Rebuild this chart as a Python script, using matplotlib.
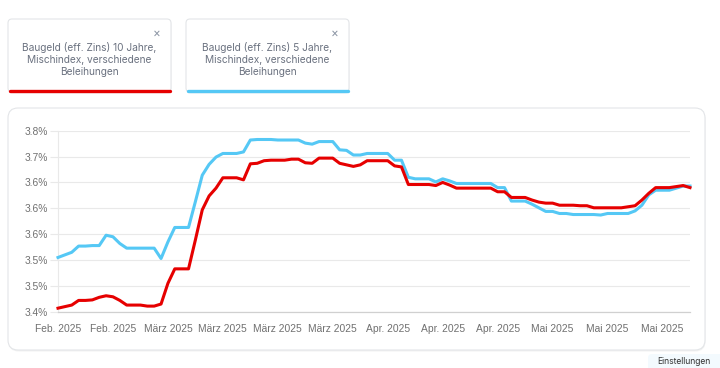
import matplotlib
matplotlib.use("Agg")
import matplotlib.pyplot as plt
from matplotlib.patches import FancyBboxPatch
import numpy as np

# ---------------------------------------------------------------------------
# Data (daily values)
# ---------------------------------------------------------------------------
zins_10j = [
    3.407, 3.410, 3.413, 3.422, 3.422, 3.423, 3.428, 3.431, 3.429, 3.422,
    3.413, 3.413, 3.413, 3.411, 3.411, 3.415, 3.455, 3.483, 3.483, 3.483,
    3.539, 3.597, 3.624, 3.639, 3.659, 3.659, 3.659, 3.655, 3.686, 3.687,
    3.692, 3.693, 3.693, 3.693, 3.695, 3.695, 3.688, 3.687, 3.697, 3.697,
    3.697, 3.687, 3.684, 3.681, 3.684, 3.692, 3.692, 3.692, 3.692, 3.682,
    3.680, 3.646, 3.646, 3.646, 3.646, 3.644, 3.650, 3.645, 3.639, 3.639,
    3.639, 3.639, 3.639, 3.639, 3.632, 3.632, 3.621, 3.621, 3.621, 3.616,
    3.612, 3.610, 3.610, 3.606, 3.606, 3.606, 3.605, 3.605, 3.601, 3.601,
    3.601, 3.601, 3.601, 3.603, 3.605, 3.616, 3.629, 3.640, 3.640, 3.640,
    3.642, 3.644, 3.640,
]
zins_5j = [
    3.505, 3.510, 3.515, 3.527, 3.527, 3.528, 3.528, 3.548, 3.545, 3.532,
    3.523, 3.523, 3.523, 3.523, 3.523, 3.503, 3.535, 3.563, 3.563, 3.563,
    3.613, 3.664, 3.685, 3.699, 3.706, 3.706, 3.706, 3.709, 3.732, 3.733,
    3.733, 3.733, 3.732, 3.732, 3.732, 3.732, 3.726, 3.724, 3.729, 3.729,
    3.729, 3.713, 3.712, 3.703, 3.703, 3.706, 3.706, 3.706, 3.706, 3.693,
    3.693, 3.660, 3.657, 3.657, 3.657, 3.651, 3.657, 3.653, 3.648, 3.648,
    3.648, 3.648, 3.648, 3.648, 3.640, 3.640, 3.614, 3.614, 3.614, 3.608,
    3.601, 3.594, 3.594, 3.590, 3.590, 3.588, 3.588, 3.588, 3.588, 3.587,
    3.590, 3.590, 3.590, 3.590, 3.595, 3.606, 3.626, 3.635, 3.635, 3.635,
    3.639, 3.643, 3.643,
]
days = np.arange(len(zins_10j))

x_tick_days = [0, 8, 16, 24, 32, 40, 48, 56, 64, 72, 80, 88]
x_tick_labels = ["Feb. 2025", "Feb. 2025", "März 2025", "März 2025",
                 "März 2025", "März 2025", "Apr. 2025", "Apr. 2025",
                 "Apr. 2025", "Mai 2025", "Mai 2025", "Mai 2025"]
y_ticks = [3.40, 3.45, 3.50, 3.55, 3.60, 3.65, 3.70, 3.75]
y_tick_labels = ["3.4%", "3.5%", "3.5%", "3.6%", "3.6%", "3.6%", "3.7%", "3.8%"]

legend_labels = ["Baugeld (eff. Zins) 10 Jahre,\nMischindex, verschiedene\nBeleihungen",
                 "Baugeld (eff. Zins) 5 Jahre,\nMischindex, verschiedene\nBeleihungen"]

# ---------------------------------------------------------------------------
# Style
# ---------------------------------------------------------------------------
plt.rcParams.update({
    "font.family": ["Inter", "DejaVu Sans"],
    "font.size": 7,
})

C_RED = "#E60000"
C_BLUE = "#55C8F5"
GRID = "#E9E9E9"
TEXT = "#6B7280"
TICK = "#707070"
BORDER = "#E3E5E8"

W, H = 720, 368
fig = plt.figure(figsize=(W / 100, H / 100), dpi=100)

# background layer in pixel coordinates for the cards
bg = fig.add_axes([0, 0, 1, 1], zorder=0)
bg.set_xlim(0, W)
bg.set_ylim(H, 0)
bg.axis("off")


def card(x0, y0, x1, y1, r=6):
    shadow = FancyBboxPatch((x0 + 0.5, y0 + 1.5), x1 - x0, y1 - y0,
                            boxstyle=f"round,pad=0,rounding_size={r}",
                            facecolor="#000000", alpha=0.05,
                            edgecolor="none")
    bg.add_patch(shadow)
    box = FancyBboxPatch((x0, y0), x1 - x0, y1 - y0,
                         boxstyle=f"round,pad=0,rounding_size={r}",
                         facecolor="white", edgecolor=BORDER, linewidth=0.8)
    bg.add_patch(box)


# legend cards
for i, (lab, col) in enumerate(zip(legend_labels, [C_RED, C_BLUE])):
    x0 = 8 + i * 178
    x1 = x0 + 163
    card(x0, 19, x1, 92, r=4)
    bg.plot([x0 + 1.5, x1 - 1.5], [90.8, 90.8], color=col, lw=2.4,
            solid_capstyle="round")
    bg.text(x1 - 14, 33.5, "×", ha="center", va="center",
            fontsize=8.5, color="#8A94A3")
    bg.text((x0 + x1) / 2, 59.5, lab, ha="center", va="center",
            fontsize=7.3, color=TEXT, linespacing=1.3)

# chart card
card(8, 108, 705, 350, r=10)

# faint settings button bottom right (mostly outside the frame)
bg.add_patch(FancyBboxPatch((648, 354), 80, 20,
                            boxstyle="round,pad=0,rounding_size=4",
                            facecolor="#F3FAFE", edgecolor="none"))
bg.text(684, 361, "Einstellungen", ha="center", va="center",
        fontsize=6.2, color="#333333")

# ---------------------------------------------------------------------------
# Line chart
# ---------------------------------------------------------------------------
ax = fig.add_axes([58 / W, 1 - 311.8 / H, (690 - 58) / W, (311.8 - 130.7) / H],
                  zorder=1)
ax.patch.set_alpha(0)

ax.yaxis.grid(True, color=GRID, linewidth=0.8)
ax.set_axisbelow(True)

ax.plot(days, zins_5j, color=C_BLUE, lw=2.2, solid_joinstyle="round",
        clip_on=False, zorder=3)
ax.plot(days, zins_10j, color=C_RED, lw=2.2, solid_joinstyle="round",
        clip_on=False, zorder=4)

ax.set_xlim(0, days[-1])
ax.set_ylim(3.40, 3.75)
ax.set_xticks(x_tick_days)
ax.set_xticklabels(x_tick_labels)
ax.set_yticks(y_ticks)
ax.set_yticklabels(y_tick_labels)
for lab in ax.get_xticklabels() + ax.get_yticklabels():
    lab.set_fontfamily(["Liberation Sans", "DejaVu Sans"])
ax.tick_params(axis="both", labelsize=7.4, labelcolor=TICK)
ax.tick_params(axis="x", length=0, pad=8.5)
ax.tick_params(axis="y", length=6, width=0.8, color=GRID, pad=1)

for side in ("top", "right"):
    ax.spines[side].set_visible(False)
ax.spines["left"].set_color(GRID)
ax.spines["left"].set_linewidth(0.8)
ax.spines["bottom"].set_color("#D0D0D0")
ax.spines["bottom"].set_linewidth(0.9)

fig.savefig("out.png", dpi=100)
